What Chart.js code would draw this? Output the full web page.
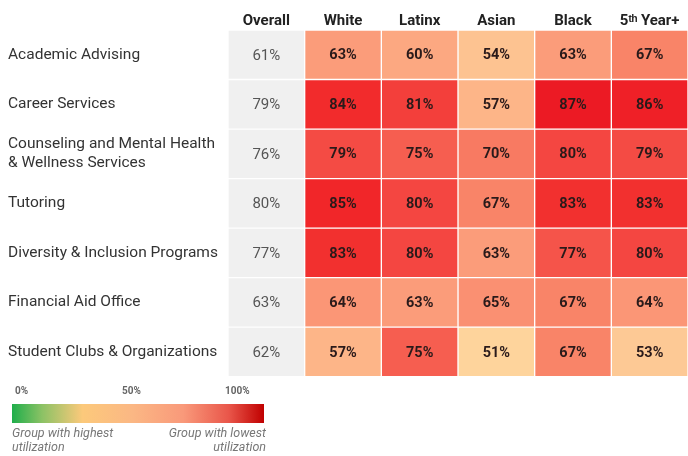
<!DOCTYPE html>
<html>
<head>
<meta charset="utf-8">
<script src="https://cdn.jsdelivr.net/npm/chart.js@4"></script>
<style>
  html, body { margin: 0; padding: 0; background: #fff; }
  body { width: 688px; height: 456px; position: relative; overflow: hidden; font-family: Roboto, "Noto Sans", sans-serif; }
  #wrap { position: absolute; left: 0; top: 0; width: 688px; height: 389px; }
  .legend { position: absolute; left: 12px; top: 385px; width: 252px; }
  .ticks { position: relative; height: 14px; font-size: 10px; font-weight: bold; color: #666; }
  .ticks span { position: absolute; top: 0; }
  .bar { height: 19px; margin-top: 5px;
    background: linear-gradient(to right, #1fae4b 0%, #8cc265 12%, #fcc97b 28%, #fbb784 48%, #f9997a 68%, #e9564a 86%, #c00000 100%); }
  .caps { position: relative; height: 30px; margin-top: 3px; font-size: 12.5px; font-style: italic; color: #777; line-height: 14px; }
  .caps .l { position: absolute; left: 0; top: 0; }
  .caps .r { position: absolute; right: -2px; top: 0; text-align: right; }
</style>
</head>
<body>
<div id="wrap"><canvas id="heat"></canvas></div>
<div class="legend">
  <div class="ticks"><span style="left:3px">0%</span><span style="left:110px">50%</span><span style="left:213px">100%</span></div>
  <div class="bar"></div>
  <div class="caps"><div class="l">Group with highest<br>utilization</div><div class="r">Group with lowest<br>utilization</div></div>
</div>
<script>
// Rows (services) and columns (groups)
const services = [
    'Academic Advising',
    'Career Services',
    ['Counseling and Mental Health', '& Wellness Services'],
    'Tutoring',
    'Diversity & Inclusion Programs',
    'Financial Aid Office',
    'Student Clubs & Organizations'
];
const groups = ['Overall', 'White', 'Latinx', 'Asian', 'Black', '5\u1d57\u02b0 Year+'];

// Utilization % per group, one value per service row
const overall = [61, 79, 76, 80, 77, 63, 62];
const white   = [63, 84, 79, 85, 83, 64, 57];
const latinx  = [60, 81, 75, 80, 80, 63, 75];
const asian   = [54, 57, 70, 67, 63, 65, 51];
const black   = [63, 87, 80, 83, 77, 67, 67];
const fifthYr = [67, 86, 79, 83, 80, 64, 53];

const columns = [overall, white, latinx, asian, black, fifthYr];

// value -> cell colour (peach to red)
const colorStops = [
    [50, [254, 217, 160]],
    [55, [253, 190, 141]],
    [60, [252, 168, 129]],
    [63, [251, 156, 122]],
    [65, [250, 144, 114]],
    [67, [249, 132, 104]],
    [70, [248, 122, 98]],
    [75, [246, 94, 80]],
    [80, [244, 70, 65]],
    [83, [242, 48, 47]],
    [85, [241, 38, 41]],
    [87, [236, 26, 36]]
];

function cellColor(v) {
    if (v <= colorStops[0][0]) return `rgb(${colorStops[0][1].join(',')})`;
    for (let i = 1; i < colorStops.length; i++) {
        const [v1, c1] = colorStops[i];
        if (v <= v1) {
            const [v0, c0] = colorStops[i - 1];
            const t = (v - v0) / (v1 - v0);
            const c = c0.map((x, k) => Math.round(x + (c1[k] - x) * t));
            return `rgb(${c.join(',')})`;
        }
    }
    return `rgb(${colorStops[colorStops.length - 1][1].join(',')})`;
}

const datasets = columns.map((vals, ci) => ({
    label: groups[ci],
    data: vals.map(() => 1),
    values: vals,
    backgroundColor: ci === 0 ? vals.map(() => '#f0f0f0') : vals.map(cellColor),
    borderColor: '#ffffff',
    borderWidth: 1,
    borderSkipped: false,
    categoryPercentage: 1,
    barPercentage: 1
}));

// writes the % value into each cell
const cellLabels = {
    id: 'cellLabels',
    afterDatasetsDraw(chart) {
        const ctx = chart.ctx;
        ctx.save();
        ctx.textAlign = 'center';
        ctx.textBaseline = 'middle';
        chart.data.datasets.forEach((ds, di) => {
            const meta = chart.getDatasetMeta(di);
            meta.data.forEach((bar, ri) => {
                const { x, y, base } = bar.getProps(['x', 'y', 'base'], true);
                if (di === 0) {
                    ctx.font = '15px Roboto, sans-serif';
                    ctx.fillStyle = '#555';
                } else {
                    ctx.font = 'bold 14.5px Roboto, sans-serif';
                    ctx.fillStyle = '#2a1a1a';
                }
                ctx.fillText(ds.values[ri] + '%', (x + base) / 2, y + 1);
            });
        });
        ctx.restore();
    }
};

new Chart(document.getElementById('heat'), {
    type: 'bar',
    data: { labels: services, datasets },
    options: {
        indexAxis: 'y',
        responsive: true,
        maintainAspectRatio: false,
        animation: false,
        layout: { padding: { left: 8, right: 0, top: 0, bottom: 4 } },
        plugins: { legend: { display: false }, tooltip: { enabled: false } },
        scales: {
            x: {
                type: 'linear',
                position: 'top',
                stacked: true,
                min: 0,
                max: groups.length,
                grid: { display: false, drawTicks: false },
                border: { display: false },
                afterBuildTicks: (scale) => { scale.ticks = groups.map((_, i) => ({ value: i + 0.5 })); },
                afterFit: (scale) => { scale.height = 30; },
                ticks: {
                    autoSkip: false,
                    maxRotation: 0,
                    padding: 0,
                    color: '#222',
                    font: { family: 'Roboto, sans-serif', size: 15, weight: 'bold' },
                    callback: (value, index) => groups[index]
                }
            },
            y: {
                stacked: true,
                grid: { display: false, drawTicks: false },
                border: { display: false },
                afterFit: (scale) => { scale.width = 220; },
                ticks: {
                    crossAlign: 'far',
                    color: '#333',
                    font: { family: 'Roboto, sans-serif', size: 15.5 },
                    lineHeight: 1.1
                }
            }
        }
    },
    plugins: [cellLabels]
});
</script>
</body>
</html>
